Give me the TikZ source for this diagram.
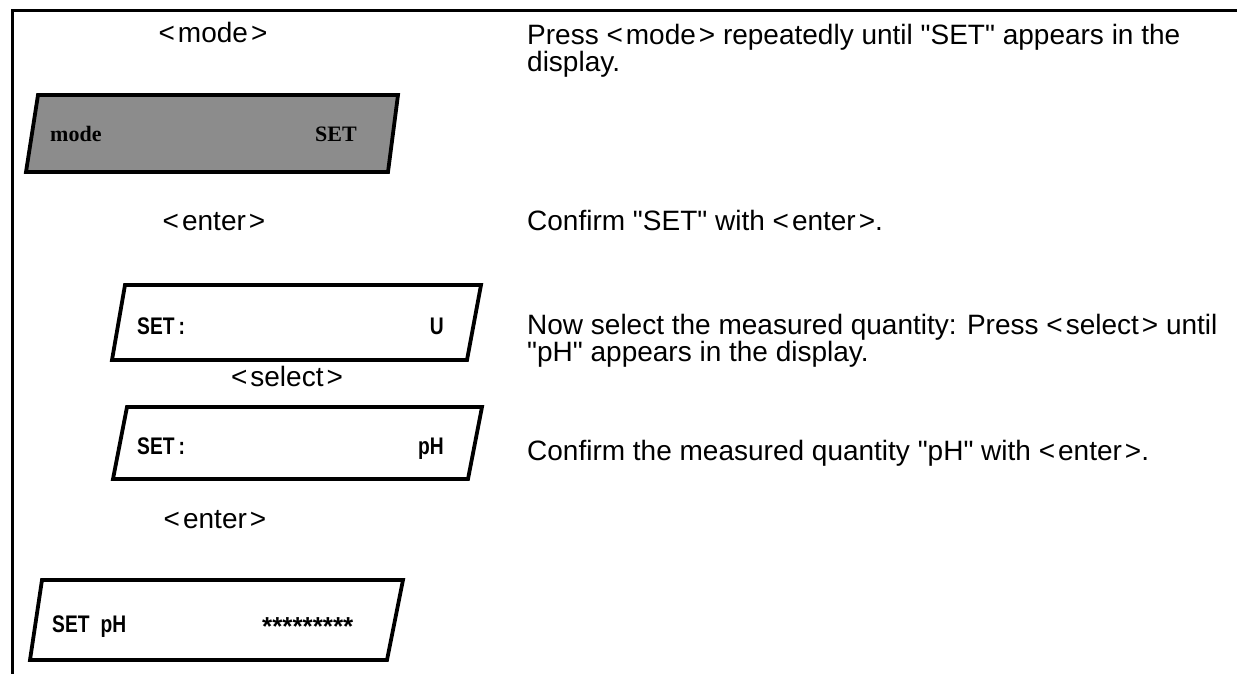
\documentclass[tikz,border=0pt]{standalone}
\usepackage{fontspec}
\setmainfont{Liberation Sans}[Ligatures=TeXOff]
\newfontfamily\lcdfont[FakeStretch=0.8]{Liberation Sans}
\newfontfamily\lcdserif{Liberation Serif}
\newfontfamily\starfont{Liberation Sans}
\newcommand{\kl}{\textless\hspace{3pt}}
\newcommand{\kr}{\hspace{3pt}\textgreater}
\begin{document}
\begin{tikzpicture}[x=1pt,y=-1pt,
  keylabel/.style={font=\fontsize{28}{25}\selectfont, inner sep=0pt, anchor=base},
  note/.style={font=\fontsize{28}{25}\selectfont, inner sep=0pt, anchor=north west, align=left},
  lcdbox/.style={draw=black, line width=3.8pt, line join=miter},
  shaded/.style={lcdbox, fill=black!45},
  lcdtext/.style={font=\lcdfont\bfseries\fontsize{24}{24}\selectfont, inner sep=0pt},
  seriftext/.style={font=\lcdserif\bfseries\fontsize{22}{22}\selectfont, inner sep=0pt},
  frameline/.style={line width=3pt}]
\path[use as bounding box] (0,0) rectangle (1237,674);
\fill[white] (0,0) rectangle (1237,674);
% frame
\draw[frameline] (12,674) -- (12,11) -- (1237,11);

% left column: keys and displays
\node[keylabel] (k1) at (213,43) {\kl mode\kr};

\draw[shaded] (38,95) -- (398,95) -- (388,172) -- (26,172) -- cycle;
\node[seriftext, anchor=base west] (d1a) at (50,142) {mode};
\node[seriftext, anchor=base east] (d1b) at (357,142) {SET};

\node[keylabel] (k2) at (214,230) {\kl enter\kr};

\draw[lcdbox] (125,285) -- (481,285) -- (467,360) -- (112,360) -- cycle;
\node[lcdtext, anchor=base west] (d2a) at (137,334) {SET\,:};
\node[lcdtext, anchor=base east] (d2b) at (444,334) {U};

\node[keylabel] (k3) at (287,386) {\kl select\kr};

\draw[lcdbox] (127,407) -- (482,407) -- (468,479) -- (113,479) -- cycle;
\node[lcdtext, anchor=base west] (d3a) at (137,454) {SET\,:};
\node[lcdtext, anchor=base east] (d3b) at (444,454) {pH};

\node[keylabel] (k4) at (215,528) {\kl enter\kr};

\draw[lcdbox] (42,580) -- (403,580) -- (387,660) -- (30,660) -- cycle;
\node[lcdtext, anchor=base west] (d4a) at (52,632) {SET\hspace{11pt}pH};
\node[font=\starfont\bfseries\fontsize{26}{26}\selectfont, inner sep=0pt, anchor=base west] (d4b) at (262,635) {*********};

% right column: instructions
\node[note] (n1) at (527,24) {Press \kl mode\kr{} repeatedly until "SET" appears in the\\display.};
\node[note] (n2) at (527,210) {Confirm "SET" with \kl enter\kr.};
\node[note] (n3) at (527,314) {Now select the measured quantity: Press \kl select\kr{} until\\"pH" appears in the display.};
\node[note] (n4) at (527,440) {Confirm the measured quantity "pH" with \kl enter\kr.};
\end{tikzpicture}
\end{document}
